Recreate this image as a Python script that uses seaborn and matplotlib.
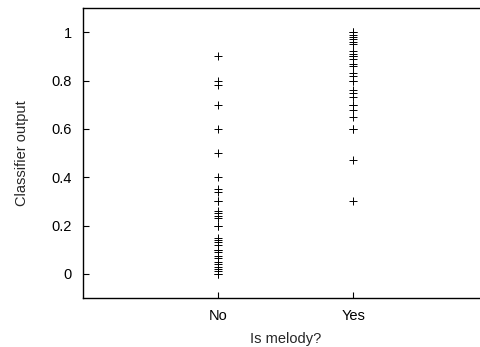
import pandas as pd
import numpy as np
import seaborn as sns
import matplotlib.pyplot as plt

categories = ["No", "Yes"]
no_values = [0.90, 0.80, 0.78, 0.70, 0.60, 0.50, 0.40, 0.35, 0.34, 0.30, 0.30,
             0.26, 0.25, 0.24, 0.23, 0.20, 0.20, 0.15, 0.14, 0.13, 0.12, 0.10,
             0.10, 0.09, 0.075, 0.065, 0.05, 0.04, 0.03, 0.02, 0.01, 0.0, 0.0]
yes_values = [1.0, 1.0, 0.99, 0.98, 0.97, 0.96, 0.95, 0.92, 0.91, 0.90, 0.90,
              0.89, 0.87, 0.86, 0.83, 0.82, 0.80, 0.80, 0.76, 0.75, 0.73,
              0.70, 0.70, 0.68, 0.65, 0.60, 0.60, 0.47, 0.30]
y_ticks = [0, 0.2, 0.4, 0.6, 0.8, 1]
y_tick_labels = ["0", "0.2", "0.4", "0.6", "0.8", "1"]

df = pd.DataFrame({
    "melody": ["No"] * len(no_values) + ["Yes"] * len(yes_values),
    "output": no_values + yes_values,
})

sns.set_style("white")
plt.rcParams["font.family"] = ["Liberation Sans", "DejaVu Sans"]

fig = plt.figure(figsize=(4.8, 3.47), dpi=100)
ax = fig.add_axes([0.173, 0.141, 0.844, 0.836])

sns.stripplot(data=df, x="melody", y="output", order=categories, jitter=False,
              marker="+", s=6, linewidth=0.7, color="black", ax=ax)

ax.set_xlim(-1, 2)
ax.set_ylim(-0.1, 1.1)
ax.set_yticks(y_ticks)
ax.set_yticklabels(y_tick_labels)
ax.set_xlabel("Is melody?", fontsize=10.5, labelpad=6)
ax.set_ylabel("Classifier output", fontsize=10.5, labelpad=16)
ax.tick_params(direction="in", length=4, width=0.8, labelsize=10.5, colors="black",
               bottom=True, left=True, pad=8)
for sp in ax.spines.values():
    sp.set_color("black")
    sp.set_linewidth(1)

fig.savefig("out.png", dpi=100)
